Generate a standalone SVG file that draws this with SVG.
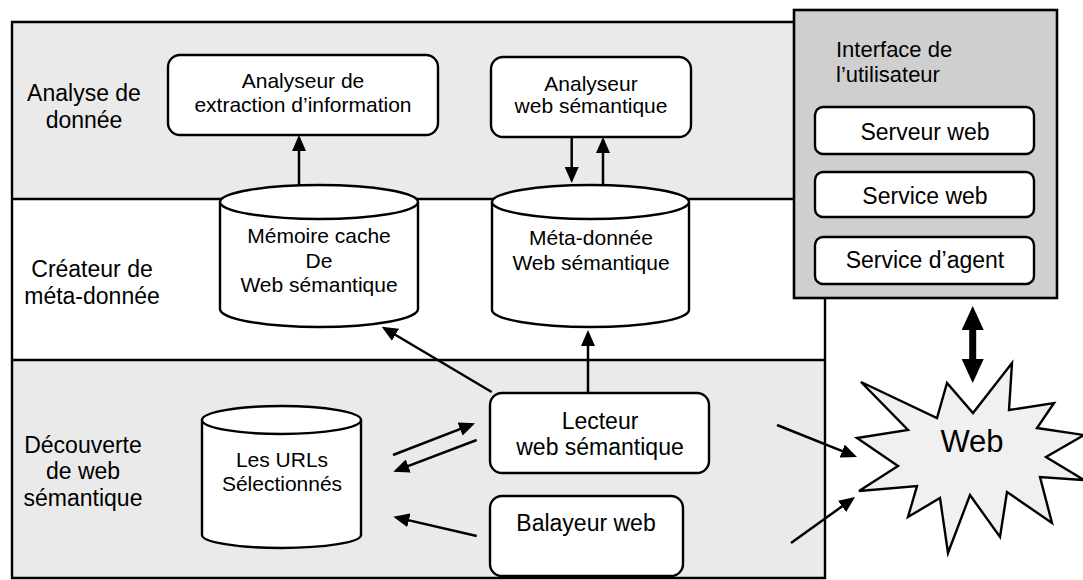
<svg xmlns="http://www.w3.org/2000/svg" width="1083" height="580" viewBox="0 0 1083 580">
<defs>
<style>
text{font-family:"Liberation Sans",Arial,sans-serif;fill:#000;}
.t{font-size:21px;text-anchor:middle;}
.t2{font-size:23px;text-anchor:middle;}
.lbl{font-size:23px;text-anchor:middle;}
.box{fill:#fff;stroke:#000;stroke-width:2.4;}
.frame{fill:none;stroke:#000;stroke-width:2.4;}
.band{fill:#eaeaea;stroke:none;}
.conn line,.conn path{stroke:#000;stroke-width:2.5;fill:none;marker-end:url(#ah);}
</style>
<marker id="ah" markerUnits="userSpaceOnUse" markerWidth="16" markerHeight="14" refX="13" refY="7" orient="auto">
<path d="M0,0 L16,7 L0,14 Z" fill="#000"/>
</marker>
<marker id="bh" markerUnits="userSpaceOnUse" markerWidth="24" markerHeight="22" refX="16" refY="11" orient="auto-start-reverse">
<path d="M0,0 L24,11 L0,22 Z" fill="#000"/>
</marker>
</defs>
<rect width="1083" height="580" fill="#fff"/>
<g id="layers">
<rect class="band" x="12" y="22" width="782" height="177"/>
<rect class="band" x="12" y="360" width="813" height="218"/>
<path class="frame" d="M794,22 H12 V578 H825 V298"/>
<path class="frame" d="M12,199 H794"/>
<path class="frame" d="M12,360 H825"/>
</g>
<g id="label-analyse">
<text class="lbl" x="84" y="101">Analyse de</text>
<text class="lbl" x="84" y="128">donnée</text>
</g>
<g id="label-createur">
<text class="lbl" x="92" y="277">Créateur de</text>
<text class="lbl" x="92" y="304">méta-donnée</text>
</g>
<g id="label-decouverte">
<text class="lbl" x="83" y="453">Découverte</text>
<text class="lbl" x="83" y="479">de web</text>
<text class="lbl" x="83" y="506">sémantique</text>
</g>
<g id="n-analyseur-extraction">
<rect class="box" x="168" y="55" width="270" height="80" rx="12"/>
<text class="t" x="303" y="88">Analyseur de</text>
<text class="t" x="303" y="112">extraction d’information</text>
</g>
<g id="n-analyseur-web">
<rect class="box" x="491" y="57" width="200" height="80" rx="12"/>
<text class="t" x="591" y="91">Analyseur</text>
<text class="t" x="591" y="113">web sémantique</text>
</g>
<g id="n-memoire-cache">
<path class="box" d="M220,202 A99,17 0 0 1 418,202 V309 A99,18 0 0 1 220,309 Z"/>
<path class="box" d="M220,202 A99,17 0 0 0 418,202" fill="none"/>
<text class="t" x="319" y="243">Mémoire cache</text>
<text class="t" x="319" y="268">De</text>
<text class="t" x="319" y="292">Web sémantique</text>
</g>
<g id="n-meta-donnee">
<path class="box" d="M492,202 A98.5,17 0 0 1 689,202 V310 A98.5,17 0 0 1 492,310 Z"/>
<path class="box" d="M492,202 A98.5,17 0 0 0 689,202" fill="none"/>
<text class="t" x="591" y="245">Méta-donnée</text>
<text class="t" x="591" y="270">Web sémantique</text>
</g>
<g id="n-urls">
<path class="box" d="M202,420 A79.5,14 0 0 1 361,420 V535 A79.5,13 0 0 1 202,535 Z"/>
<path class="box" d="M202,420 A79.5,14 0 0 0 361,420" fill="none"/>
<text class="t" x="282" y="467">Les URLs</text>
<text class="t" x="282" y="491">Sélectionnés</text>
</g>
<g id="n-lecteur">
<rect class="box" x="490" y="393" width="219" height="80" rx="12"/>
<text class="t2" x="600" y="429">Lecteur</text>
<text class="t2" x="600" y="455">web sémantique</text>
</g>
<g id="n-balayeur">
<rect class="box" x="490" y="496" width="193" height="80" rx="12"/>
<text class="t2" x="586" y="531">Balayeur web</text>
</g>
<g id="n-interface">
<rect x="794" y="10" width="263" height="288" fill="#cfcfcf" stroke="#000" stroke-width="2.6"/>
<text x="836" y="57" font-size="22">Interface de</text>
<text x="836" y="82" font-size="22">l’utilisateur</text>
<rect class="box" x="815" y="107" width="219" height="47" rx="8"/>
<text class="t2" x="925" y="140">Serveur web</text>
<rect class="box" x="815" y="172" width="219" height="45" rx="8"/>
<text class="t2" x="925" y="204">Service web</text>
<rect class="box" x="815" y="237" width="219" height="47" rx="8"/>
<text class="t2" x="925" y="268">Service d’agent</text>
</g>
<g id="n-web">
<polygon points="861,382 937,418 947,383 973,413 1012,363 1009,410 1054,403 1037,428 1084,435 1046,457 1084,480 1040,477 1052,523 1007,492 1000,537 970,495 948,553 940,498 908,517 917,486 859,491 898,466 857,438 908,430" fill="#f0f0f0" stroke="#000" stroke-width="2.4" stroke-linejoin="miter"/>
<text x="972" y="452" font-size="31" text-anchor="middle">Web</text>
</g>
<g id="connectors" class="conn">
<line x1="299" y1="186" x2="299" y2="138"/>
<line x1="571.7" y1="137" x2="571.7" y2="180"/>
<line x1="603" y1="185" x2="603" y2="140"/>
<line x1="491.7" y1="392" x2="384.3" y2="328.2"/>
<line x1="588" y1="393" x2="588" y2="333"/>
<line x1="393" y1="455" x2="472.2" y2="424.4"/>
<line x1="476.7" y1="440" x2="396.1" y2="470.6"/>
<line x1="476.7" y1="536" x2="396.2" y2="517.4"/>
<line x1="777" y1="425" x2="854.2" y2="455.9"/>
<line x1="791" y1="543" x2="852.6" y2="498.8"/>
<line x1="972.7" y1="314" x2="972.7" y2="375" style="stroke-width:7;marker-start:url(#bh);marker-end:url(#bh)"/>
</g>
</svg>
